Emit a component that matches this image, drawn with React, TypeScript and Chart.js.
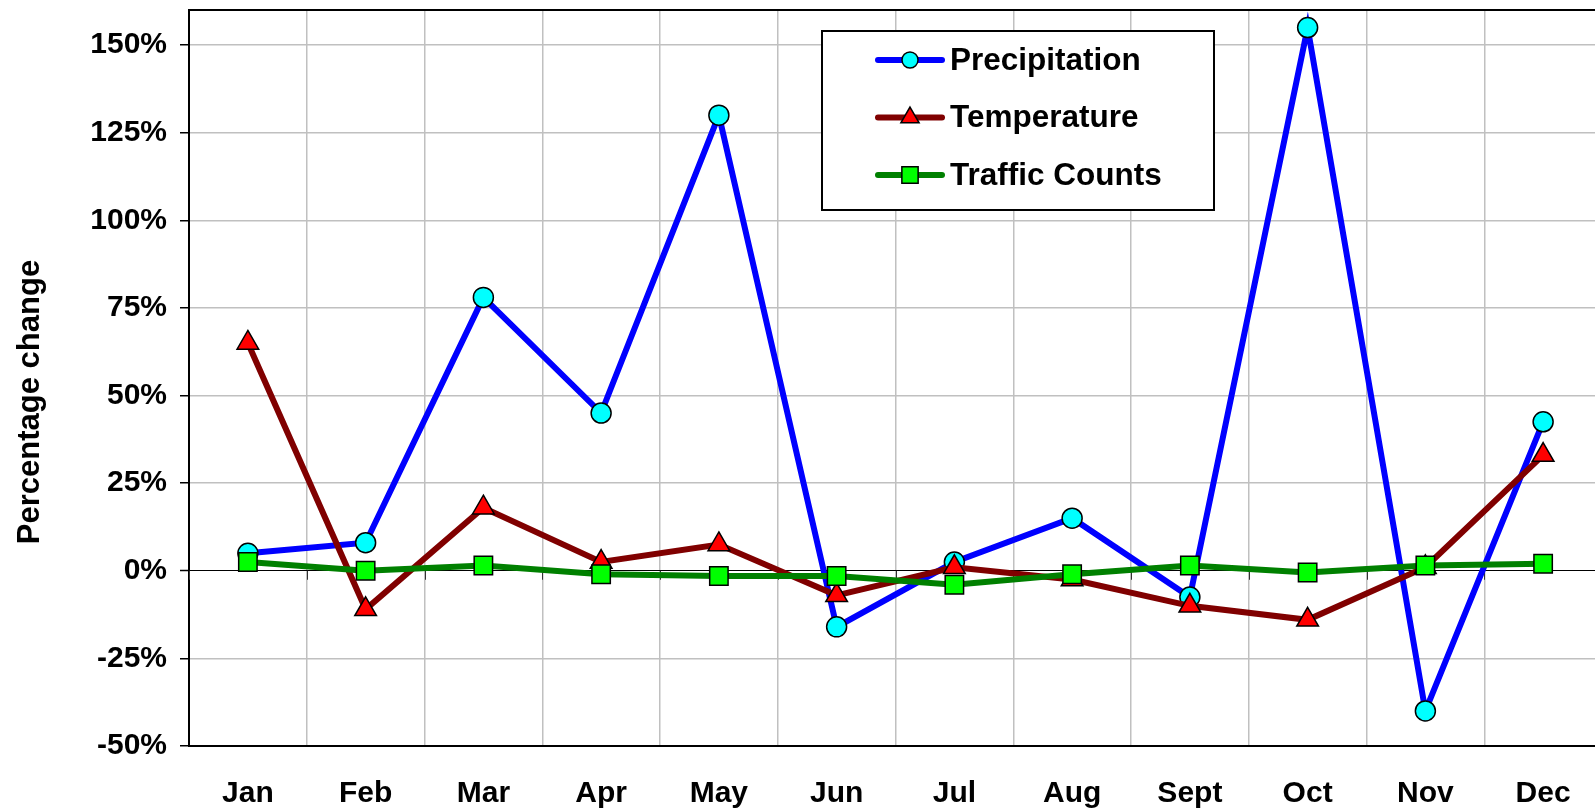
import React, { useEffect, useRef } from "react";
import { Chart, registerables } from "chart.js";
import { drawPoint } from "chart.js/helpers";

Chart.register(...registerables);

const months = ["Jan", "Feb", "Mar", "Apr", "May", "Jun", "Jul", "Aug", "Sept", "Oct", "Nov", "Dec"];
const precipitation = [5, 8, 78, 45, 130, -16, 2.5, 15, -7.5, 155, -40, 42.5];
const temperature = [65, -11, 18, 2.5, 7.5, -7, 1, -2.5, -10, -14, 1, 33];
const trafficCounts = [2.5, 0, 1.5, -1, -1.5, -1.5, -4, -1, 1.5, -0.5, 1.5, 2];
const yTickValues = [-50, -25, 0, 25, 50, 75, 100, 125, 150];
const yMin = -50;
const yMax = 160;
const yTitle = "Percentage change";

const FONT = '"Liberation Sans", Arial, sans-serif';

const framePlugin = {
  id: "frame",
  beforeDatasetsDraw(chart: any) {
    const { ctx, chartArea, scales } = chart;
    const x = scales.x;
    const y = scales.y;
    ctx.save();
    ctx.strokeStyle = "#000";
    ctx.lineWidth = 2;
    ctx.beginPath();
    ctx.moveTo(chartArea.left - 1, chartArea.top);
    ctx.lineTo(chartArea.right, chartArea.top);
    ctx.stroke();
    const y0 = y.getPixelForValue(0);
    ctx.lineWidth = 1;
    ctx.strokeStyle = "#333";
    for (let i = 0; i <= months.length; i++) {
      const px = Math.round(x.getPixelForValue(i - 0.5)) + 0.5;
      ctx.beginPath();
      ctx.moveTo(px, y0);
      ctx.lineTo(px, y0 + 9);
      ctx.stroke();
    }
    ctx.restore();
  },
  afterDraw(chart: any) {
    const { ctx } = chart;
    ctx.save();
    ctx.translate(30, 402);
    ctx.rotate(-Math.PI / 2);
    ctx.font = `bold 31px ${FONT}`;
    ctx.fillStyle = "#000";
    ctx.textAlign = "center";
    ctx.textBaseline = "middle";
    ctx.fillText(yTitle, 0, 0);
    ctx.restore();

    ctx.save();
    const bx = 822, by = 31, bw = 392, bh = 179;
    ctx.fillStyle = "#fff";
    ctx.fillRect(bx, by, bw, bh);
    ctx.strokeStyle = "#000";
    ctx.lineWidth = 2;
    ctx.strokeRect(bx, by, bw, bh);
    const legendRadii = [8, 10.5, 11.5];
    chart.data.datasets.forEach((ds: any, i: number) => {
      const cy = 60 + i * 57.5;
      ctx.strokeStyle = ds.borderColor;
      ctx.lineWidth = 6;
      ctx.lineCap = "round";
      ctx.beginPath();
      ctx.moveTo(878, cy);
      ctx.lineTo(942, cy);
      ctx.stroke();
      ctx.lineCap = "butt";
      ctx.fillStyle = ds.pointBackgroundColor;
      ctx.strokeStyle = "#000";
      ctx.lineWidth = 1.5;
      drawPoint(ctx, { pointStyle: ds.pointStyle, rotation: 0, radius: legendRadii[i], borderWidth: 1.5 }, 910, cy);
      ctx.fillStyle = "#000";
      ctx.font = `bold 31.5px ${FONT}`;
      ctx.textAlign = "left";
      ctx.textBaseline = "middle";
      ctx.fillText(ds.label, 950, cy + 1);
    });
    ctx.restore();
  },
};

export default function App() {
  const ref = useRef<HTMLCanvasElement>(null);
  useEffect(() => {
    if (!ref.current) return;
    const chart = new Chart(ref.current, {
      type: "line",
      data: {
        labels: months,
        datasets: [
          {
            label: "Precipitation",
            data: precipitation,
            borderColor: "#0000FF",
            borderWidth: 6,
            pointStyle: "circle",
            pointRadius: 10,
            pointBackgroundColor: "#00FFFF",
            pointBorderColor: "#000",
            pointBorderWidth: 1.5,
            tension: 0,
            order: 3,
          },
          {
            label: "Temperature",
            data: temperature,
            borderColor: "#800000",
            borderWidth: 6,
            pointStyle: "triangle",
            pointRadius: 12.5,
            pointBackgroundColor: "#FF0000",
            pointBorderColor: "#000",
            pointBorderWidth: 1.5,
            tension: 0,
            order: 2,
          },
          {
            label: "Traffic Counts",
            data: trafficCounts,
            borderColor: "#008000",
            borderWidth: 6,
            pointStyle: "rect",
            pointRadius: 13,
            pointBackgroundColor: "#00FF00",
            pointBorderColor: "#000",
            pointBorderWidth: 1.5,
            tension: 0,
            order: 1,
          },
        ],
      },
      options: {
        responsive: false,
        animation: false,
        events: [],
        layout: { autoPadding: false, padding: { top: 10, left: 0, right: 0, bottom: 0 } },
        plugins: { legend: { display: false }, tooltip: { enabled: false } },
        scales: {
          x: {
            offset: true,
            grid: { offset: true, color: "#C0C0C0", lineWidth: 1.5, drawTicks: false },
            border: { color: "#000", width: 2 },
            ticks: {
              color: "#000",
              font: { family: FONT, size: 30, weight: "bold" },
              padding: 30,
              autoSkip: false,
              maxRotation: 0,
            },
            afterFit: (s: any) => {
              s.height = 64;
              s.paddingLeft = 0;
              s.paddingRight = 0;
            },
          },
          y: {
            min: yMin,
            max: yMax,
            afterBuildTicks: (s: any) => {
              s.ticks = yTickValues.map((v) => ({ value: v }));
            },
            grid: {
              color: (c: any) => (c.tick && c.tick.value === 0 ? "#000" : "#C0C0C0"),
              lineWidth: (c: any) => (c.tick && c.tick.value === 0 ? 1 : 1.5),
              tickColor: "#000",
              tickLength: 9,
              tickWidth: 1.5,
            },
            border: { color: "#000", width: 2 },
            ticks: {
              color: "#000",
              font: { family: FONT, size: 30, weight: "bold" },
              padding: 13,
              callback: (v: any) => `${v}%`,
            },
            afterFit: (s: any) => {
              s.width = 189;
              s.paddingTop = 0;
              s.paddingBottom = 0;
            },
          },
        },
      },
      plugins: [framePlugin],
    });
    return () => chart.destroy();
  }, []);
  return (
    <div style={{ position: "fixed", left: 0, top: 0, width: 1595, height: 810, overflow: "hidden", background: "#fff" }}>
      <canvas ref={ref} width={1602} height={810} style={{ position: "absolute", left: 0, top: 0, width: 1602, height: 810 }} />
    </div>
  );
}
